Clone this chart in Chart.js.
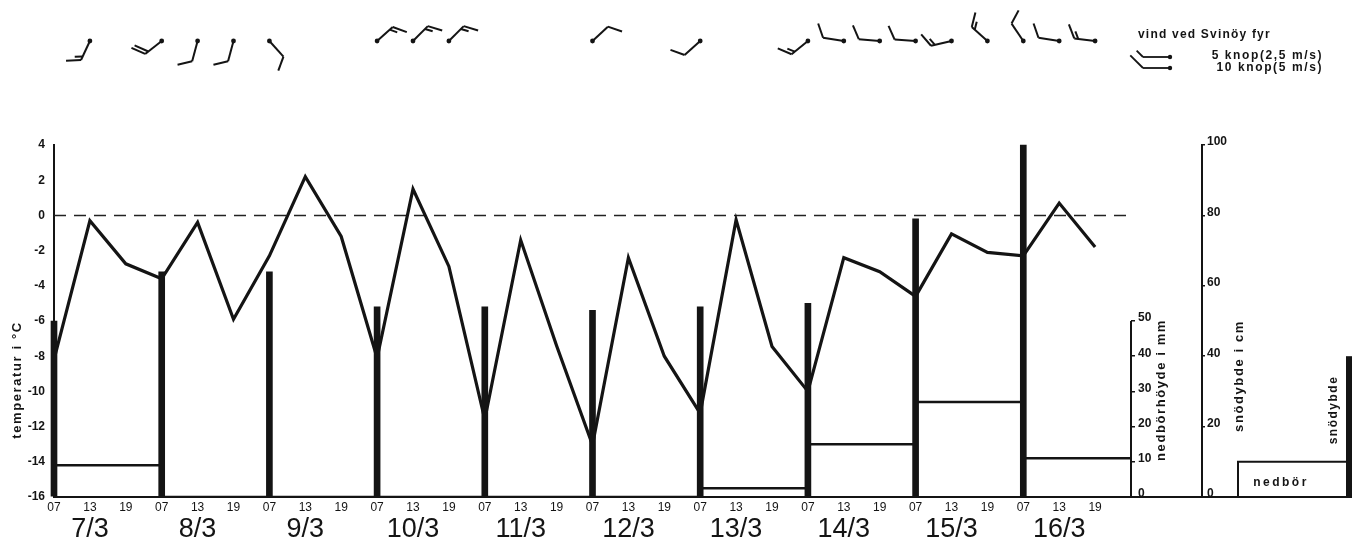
<!DOCTYPE html>
<html>
<head>
<meta charset="utf-8">
<script src="https://cdn.jsdelivr.net/npm/chart.js@4.4.1/dist/chart.umd.min.js"></script>
<style>
  html, body { margin: 0; padding: 0; background: #fff; }
  #wrap { width: 1358px; height: 543px; position: relative; }
  canvas { display: block; }
</style>
</head>
<body>
<div id="wrap"><canvas id="c" width="1358" height="543"></canvas></div>
<script>
// Observation hours and days
const hours = ['07', '13', '19'];
const days = ['7/3', '8/3', '9/3', '10/3', '11/3', '12/3', '13/3', '14/3', '15/3', '16/3'];

// Air temperature (°C) at 07, 13 and 19 each day
const temperature = [
  -8.2, -0.3, -2.75,
  -3.6, -0.4, -5.9,
  -2.3, 2.2, -1.2,
  -8.1, 1.5, -2.9,
  -11.6, -1.4, -7.4,
  -13.05, -2.4, -8.0,
  -11.25, -0.25, -7.45,
  -10.0, -2.4, -3.2,
  -4.6, -1.05, -2.1,
  -2.3, 0.7, -1.8
];

// Snow depth (cm) read at 07
const snowDepth = [50, 64, 64, 54, 54, 53, 54, 55, 79, 100];

// Precipitation (mm) for each 24 h period starting 07
const precipitation = [9, 0, 0, 0, 0, 0, 2.5, 15, 27, 11];

// Wind at Svinøy lighthouse: observation number, direction (deg), speed (knots)
const windObs   = [1, 3, 4, 5, 6, 9, 10, 11, 15, 18, 21, 22, 23, 24, 25, 26, 27, 28, 29];
const windDir   = [205, 232, 195, 195, 138, 48, 45, 45, 47, 228, 231, 279, 275, 274, 257, 312, 326, 279, 277];
const windKnots = [15, 20, 10, 10, 10, 15, 15, 15, 10, 10, 15, 10, 10, 10, 15, 15, 10, 10, 15];

// Axis tick values
const precipTicks = [0, 10, 20, 30, 40, 50];
const snowTicks = [0, 20, 40, 60, 80, 100];

// Key samples (bottom right)
const keyPrecip = 10;
const keySnow = 40;
const keyWind = [5, 10];

const INK = '#141414';
const FONT = "'Liberation Sans', Arial, sans-serif";

const obsLabels = [];
days.forEach(() => hours.forEach(h => obsLabels.push(h)));
const xMax = days.length * hours.length;

const tempPoints = temperature.map((t, i) => ({ x: i, y: t }));
const snowBars = snowDepth.map((s, d) => ({ x: d * hours.length, y: s }));
// each period's amount is drawn from its start (07) to the next 07
const precipSteps = precipitation.map((p, d) => ({ x: d * hours.length, y: p }))
  .concat([{ x: xMax, y: precipitation[precipitation.length - 1] }]);
const zeroLine = [{ x: 0, y: 0 }, { x: xMax, y: 0 }];

function spacedText(ctx, text, x, y, font, spacing, rotate, align) {
  ctx.save();
  ctx.translate(x, y);
  if (rotate) ctx.rotate(rotate);
  ctx.font = font;
  ctx.letterSpacing = spacing + 'px';
  ctx.textAlign = align || 'center';
  ctx.textBaseline = 'middle';
  ctx.fillStyle = INK;
  ctx.fillText(text, 0, 0);
  ctx.restore();
}

function drawBarb(ctx, cx, cy, bearing, knots, o) {
  const r = bearing * Math.PI / 180;
  const dx = Math.sin(r), dy = -Math.cos(r);
  const tx = cx + dx * o.shaft, ty = cy + dy * o.shaft;
  ctx.beginPath();
  ctx.moveTo(cx, cy);
  ctx.lineTo(tx, ty);
  ctx.stroke();
  const th = o.angle * Math.PI / 180;
  const fx = dx * Math.cos(th) - dy * Math.sin(th);
  const fy = dx * Math.sin(th) + dy * Math.cos(th);
  let rest = knots, pos = 0;
  while (rest >= 5) {
    const len = rest >= 10 ? o.full : o.half;
    rest -= rest >= 10 ? 10 : 5;
    const bx = tx - dx * pos, by = ty - dy * pos;
    ctx.beginPath();
    ctx.moveTo(bx, by);
    ctx.lineTo(bx + fx * len, by + fy * len);
    ctx.stroke();
    pos += o.gap;
  }
  ctx.beginPath();
  ctx.arc(cx, cy, o.dot, 0, Math.PI * 2);
  ctx.fill();
}

const extras = {
  id: 'extras',
  afterDraw(chart) {
    const ctx = chart.ctx;
    const { x, yPrec, ySnow } = chart.scales;
    const area = chart.chartArea;
    ctx.save();
    ctx.strokeStyle = INK;
    ctx.fillStyle = INK;
    ctx.lineCap = 'butt';

    // precipitation axis, drawn only over its labelled range
    ctx.lineWidth = 2;
    ctx.beginPath();
    ctx.moveTo(yPrec.left, yPrec.getPixelForValue(0));
    ctx.lineTo(yPrec.left, yPrec.getPixelForValue(precipTicks[precipTicks.length - 1]));
    ctx.stroke();

    // baseline continued under the right-hand axes and the key
    const keyLeft = 1238, keyRight = 1346, keyBarW = 6;
    ctx.beginPath();
    ctx.moveTo(area.right, area.bottom);
    ctx.lineTo(keyRight + keyBarW, area.bottom);
    ctx.stroke();

    // axis titles
    const bold = "bold 13px " + FONT;
    spacedText(ctx, 'temperatur i °C', 17, 380, bold, 1.6, -Math.PI / 2);
    spacedText(ctx, 'nedbörhöyde i mm', 1161, 390, bold, 1.6, -Math.PI / 2);
    spacedText(ctx, 'snödybde i cm', 1239, 376, bold, 1.6, -Math.PI / 2);

    // key: precipitation box and snow-depth bar
    const boxTop = ySnow.getPixelForValue(keyPrecip);
    ctx.lineWidth = 2;
    ctx.beginPath();
    ctx.moveTo(keyLeft, area.bottom);
    ctx.lineTo(keyLeft, boxTop);
    ctx.lineTo(keyRight, boxTop);
    ctx.stroke();
    const barTop = ySnow.getPixelForValue(keySnow);
    ctx.fillRect(keyRight, barTop, keyBarW, area.bottom - barTop);
    spacedText(ctx, 'nedbör', 1281, 483, "bold 12px " + FONT, 2.5);
    spacedText(ctx, 'snödybde', 1334, 410, "bold 12px " + FONT, 1.5, -Math.PI / 2);

    // wind barbs
    ctx.lineWidth = 2;
    ctx.lineJoin = 'round';
    const barbStyle = { shaft: 21, full: 15, half: 8, gap: 4, angle: 62, dot: 2.4 };
    windObs.forEach((obs, k) => {
      drawBarb(ctx, x.getPixelForValue(obs), 41, windDir[k], windKnots[k], barbStyle);
    });

    // wind key
    spacedText(ctx, 'vind ved Svinöy fyr', 1138, 35, "bold 12px " + FONT, 1.2, 0, 'left');
    const keyStyle = { shaft: 27, full: 18, half: 9, gap: 4, angle: 45, dot: 2.2 };
    ctx.lineWidth = 1.8;
    drawBarb(ctx, 1170, 57, 270, keyWind[0], keyStyle);
    drawBarb(ctx, 1170, 68, 270, keyWind[1], keyStyle);
    spacedText(ctx, keyWind[0] + ' knop(2,5 m/s)', 1323, 56, "bold 12px " + FONT, 1.6, 0, 'right');
    spacedText(ctx, keyWind[1] + ' knop(5 m/s)', 1323, 68, "bold 12px " + FONT, 1.6, 0, 'right');

    ctx.restore();
  }
};

new Chart(document.getElementById('c'), {
  data: {
    datasets: [
      {
        type: 'bar', label: 'snödybde', data: snowBars,
        xAxisID: 'x', yAxisID: 'ySnow',
        backgroundColor: INK, borderWidth: 0, barThickness: 6,
        clip: 8, order: 0
      },
      {
        type: 'line', label: 'temperatur', data: tempPoints,
        xAxisID: 'x', yAxisID: 'yTemp',
        borderColor: INK, borderWidth: 3.2, pointRadius: 0, tension: 0,
        borderJoinStyle: 'miter', order: 1
      },
      {
        type: 'line', label: 'nedbör', data: precipSteps,
        xAxisID: 'x', yAxisID: 'yPrec', stepped: 'before',
        borderColor: INK, borderWidth: 2.5, pointRadius: 0, order: 2
      },
      {
        type: 'line', label: '0 °C', data: zeroLine,
        xAxisID: 'x', yAxisID: 'yTemp',
        borderColor: '#222', borderWidth: 1.5, borderDash: [12, 8],
        pointRadius: 0, order: 3
      }
    ]
  },
  options: {
    responsive: false,
    animation: false,
    devicePixelRatio: 1,
    layout: { padding: { top: 145, left: 0, right: 0, bottom: 0 } },
    plugins: { legend: { display: false }, tooltip: { enabled: false } },
    scales: {
      x: {
        type: 'linear', position: 'bottom', weight: 0,
        min: 0, max: xMax, offset: false,
        grid: { display: false, drawTicks: false, offset: false },
        border: { display: true, color: INK, width: 2 },
        ticks: {
          autoSkip: false, maxRotation: 0, padding: 3, color: INK,
          font: { family: FONT, size: 12 },
          callback: (v, i) => obsLabels[i]
        },
        afterBuildTicks: s => { s.ticks = obsLabels.map((_, i) => ({ value: i })); },
        afterFit: s => { s.height = 16; }
      },
      xDays: {
        type: 'linear', position: 'bottom', weight: 1,
        min: 0, max: xMax, offset: false,
        grid: { display: false, drawTicks: false },
        border: { display: false },
        ticks: {
          autoSkip: false, maxRotation: 0, padding: 0, color: INK,
          font: { family: FONT, size: 27 },
          callback: (v, i) => days[i]
        },
        afterBuildTicks: s => { s.ticks = days.map((_, d) => ({ value: d * hours.length + 1 })); },
        afterFit: s => { s.height = 30; }
      },
      yTemp: {
        type: 'linear', position: 'left', min: -16, max: 4,
        grid: { display: false, drawTicks: false },
        border: { display: true, color: INK, width: 2 },
        ticks: {
          stepSize: 2, padding: 9, color: INK,
          font: { family: FONT, size: 12, weight: 'bold' }
        },
        afterFit: s => { s.width = 54; }
      },
      yPrec: {
        type: 'linear', position: 'right', weight: 0, min: 0, max: 100,
        grid: { display: true, drawOnChartArea: false, drawTicks: true, tickLength: 4, color: INK, lineWidth: 1.5 },
        border: { display: false },
        ticks: {
          padding: 3, labelOffset: -3, color: INK,
          font: { family: FONT, size: 12, weight: 'bold' }
        },
        afterBuildTicks: s => { s.ticks = precipTicks.map(v => ({ value: v })); },
        afterFit: s => { s.width = 71; }
      },
      ySnow: {
        type: 'linear', position: 'right', weight: 1, min: 0, max: 100,
        grid: { display: true, drawOnChartArea: false, drawTicks: true, tickLength: 3, color: INK, lineWidth: 1.5 },
        border: { display: true, color: INK, width: 2 },
        ticks: {
          padding: 2, labelOffset: -3, color: INK,
          font: { family: FONT, size: 12, weight: 'bold' }
        },
        afterBuildTicks: s => { s.ticks = snowTicks.map(v => ({ value: v })); },
        afterFit: s => { s.width = 156; }
      }
    }
  },
  plugins: [extras]
});
</script>
</body>
</html>
